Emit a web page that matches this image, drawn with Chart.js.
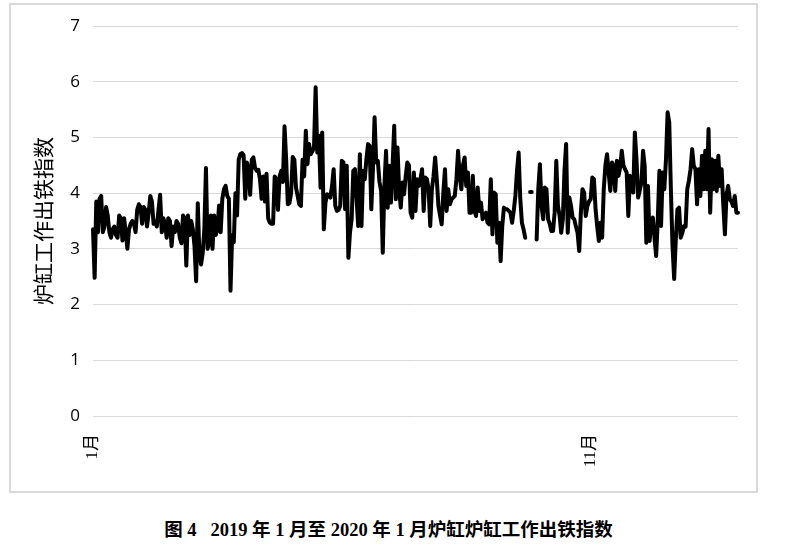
<!DOCTYPE html>
<html>
<head>
<meta charset="UTF-8">
<title>炉缸工作出铁指数</title>
<script src="https://cdn.jsdelivr.net/npm/chart.js@4/dist/chart.umd.min.js"></script>
<style>
  body { margin: 0; background: #fff; }
  #box {
    position: absolute; left: 9px; top: 3px;
    width: 745px; height: 486px;
    border: 2px solid #d9d9d9;
  }
  #caption {
    position: absolute; left: 0; top: 515px; width: 777px;
    text-align: center; white-space: pre;
    font: bold 18.5px "Liberation Serif", "Noto Sans CJK SC", serif;
    color: #000;
  }
</style>
</head>
<body>
<div id="box"><canvas id="canvas" width="745" height="486"></canvas></div>
<div id="caption">图 4   2019 年 1 月至 2020 年 1 月炉缸炉缸工作出铁指数</div>
<script>
// 日指数，按季度分段 (2019-01-01 起)
const janToMar = [
  3.35, 2.48, 3.85, 3.3, 3.9, 3.95, 3.3, 3.4, 3.75, 3.6,
  3.3, 3.2, 3.35, 3.4, 3.25, 3.2, 3.6, 3.55, 3.15, 3.55,
  3.3, 3.0, 3.35, 3.45, 3.5, 3.45, 3.3, 3.7, 3.8, 3.75,
  3.45, 3.75, 3.7, 3.4, 3.65, 3.95, 3.85, 3.45, 3.5, 3.4,
  3.7, 3.97, 3.3, 3.55, 3.45, 3.2, 3.55, 3.5, 3.05, 3.4,
  3.3, 3.5, 3.45, 3.2, 3.1, 3.6, 3.55, 2.7, 3.6, 3.25,
  3.5, 3.35, 3.05, 2.42, 3.82, 2.9, 2.72, 2.92, 3.35, 4.45,
  3.0, 3.12, 3.6, 3.0, 3.6, 3.25, 3.35, 3.78, 3.3, 3.9,
  4.07, 4.13, 3.95, 3.9, 2.25, 3.25, 3.12, 4.0, 3.6, 4.6
];
const aprToJun = [
  4.7, 4.72, 4.68, 3.9, 4.55, 4.45, 3.97, 4.6, 4.64, 4.45,
  4.4, 4.42, 4.25, 3.9, 4.3, 3.85, 4.35, 3.55, 3.47, 3.45,
  3.45, 4.3, 4.25, 3.7, 4.3, 4.4, 4.2, 5.2, 4.6, 3.8,
  3.82, 4.0, 4.65, 4.6, 4.1, 3.95, 3.8, 3.77, 4.6, 4.3,
  5.12, 4.52, 4.88, 4.7, 4.75, 4.82, 5.9, 4.73, 5.03, 4.1,
  5.09, 3.35, 3.83, 3.98, 3.95, 3.92, 4.13, 4.43, 3.77, 3.68,
  3.7, 3.77, 4.58, 4.55, 3.71, 4.49, 2.84, 3.3, 3.53, 4.4,
  4.43, 3.9, 3.41, 4.7, 3.41, 4.4, 4.25, 4.6, 4.88, 4.85,
  3.71, 4.43, 5.36, 4.55, 4.58, 4.2, 4.04, 2.93, 4.13, 4.76,
  3.74
];
const julToSep = [
  4.49, 3.83, 4.5, 5.21, 3.89, 4.82, 4.07, 3.74, 4.19,
  3.98, 4.3, 4.55, 4.5, 3.65, 3.56, 4.37, 3.68, 4.25, 4.13,
  4.25, 4.43, 3.68, 4.28, 4.25, 4.07, 3.41, 4.07, 4.3, 4.64,
  4.25, 3.77, 3.6, 3.44, 4.01, 4.43, 3.68, 4.07, 3.8, 3.89,
  3.92, 3.95, 4.25, 4.76, 4.31, 4.07, 4.5, 4.64, 4.13, 4.37,
  3.65, 3.65, 4.31, 3.68, 3.59, 4.1, 3.68, 3.83, 3.53, 3.6,
  3.65, 3.47, 3.44, 4.25, 3.26, 4.01, 3.98, 3.11, 3.47, 2.78,
  3.41, 3.74, 3.71, 3.71, 3.68, 3.65, 3.47, 3.68, 3.95, 4.4,
  4.73, 3.9, 3.47, 3.35, 3.2, null, null, 4.02, 4.02, null,
  null, 3.17, 4.07
];
const octToJan = [
  4.52, 3.77, 3.53, 4.1, 4.07, 3.53, 3.45,
  3.32, 3.32, 3.65, 4.58, 3.77, 3.6, 3.29, 3.53, 4.4, 4.88,
  3.29, 3.92, 3.77, 3.56, 3.53, 3.4, 3.29, 2.96, 3.65, 4.07,
  4.01, 3.59, 3.77, 3.85, 3.89, 4.28, 4.25, 3.71, 3.4, 3.14,
  3.47, 3.2, 4.07, 4.5, 4.7, 4.37, 4.04, 4.55, 4.49, 4.04,
  4.58, 4.31, 4.46, 4.76, 4.5, 4.43, 4.37, 3.59, 4.31, 4.19,
  4.01, 5.09, 4.6, 3.92, 4.05, 4.19, 4.76, 4.49, 3.11, 4.13,
  3.14, 3.47, 3.56, 3.2, 2.87, 3.53, 4.4, 3.41, 4.37, 4.07,
  4.6, 5.45, 5.27, 4.07, 3.05, 2.46, 3.17, 3.71, 3.74, 3.2,
  3.29, 3.41, 3.4, 4.07, 4.22, 4.43, 4.79, 4.49, 4.43, 3.8,
  4.43, 3.95, 4.67, 4.07, 4.76, 4.07, 5.15, 3.65, 4.61, 4.07,
  4.58, 4.04, 4.67, 4.13, 4.43, 3.8, 3.26, 3.98, 4.13, 3.89,
  3.85, 3.77, 3.95, 3.65, 3.65
];
const tickDates = ['2019-01-01', '2019-11-01'];
const tickNames = ['1月', '11月'];
const yTicks = [0, 1, 2, 3, 4, 5, 6, 7];

const values = janToMar.concat(aprToJun, julToSep, octToJan);
let dates = [];
for (let i = 0; i < values.length; i++) {
  dates.push(new Date(Date.UTC(2019, 0, 1 + i)).toISOString().slice(0, 10));
}

const serif = '"Liberation Serif", "Noto Sans CJK SC", serif';

new Chart(document.getElementById('canvas'), {
  type: 'line',
  data: {
    labels: dates,
    datasets: [{
      data: values,
      borderColor: '#000',
      borderWidth: 4,
      pointRadius: 0,
      tension: 0,
      spanGaps: false,
      borderJoinStyle: 'round',
      borderCapStyle: 'round'
    }]
  },
  options: {
    responsive: false,
    animation: false,
    layout: { padding: { top: 21, right: 18, left: 0, bottom: 0 } },
    plugins: { legend: { display: false }, tooltip: { enabled: false } },
    scales: {
      x: {
        offset: false,
        grid: { display: false, drawTicks: false },
        border: { display: false },
        afterFit: function(scale) {
          scale.height = 75;
          scale.paddingLeft = 0;
          scale.paddingRight = 0;
        },
        ticks: {
          autoSkip: false,
          minRotation: 90,
          maxRotation: 90,
          padding: 18,
          color: '#000',
          font: { family: serif, size: 17 },
          callback: function(v, i) {
            const k = tickDates.indexOf(dates[i]);
            return k >= 0 ? tickNames[k] : '';
          }
        }
      },
      y: {
        min: yTicks[0],
        max: yTicks[yTicks.length - 1],
        afterFit: function(scale) {
          scale.width = 82;
          scale.paddingTop = 0;
          scale.paddingBottom = 0;
        },
        grid: { color: '#d9d9d9', lineWidth: 1, drawTicks: false },
        border: { display: false },
        ticks: {
          stepSize: 1,
          padding: 13,
          color: '#000',
          font: { family: '"Open Sans", "Liberation Sans", sans-serif', size: 17 }
        },
        title: {
          display: true,
          text: '炉缸工作出铁指数',
          color: '#000',
          padding: { top: 22, bottom: 0 },
          font: { family: serif, size: 21 }
        }
      }
    }
  }
});
</script>
</body>
</html>
